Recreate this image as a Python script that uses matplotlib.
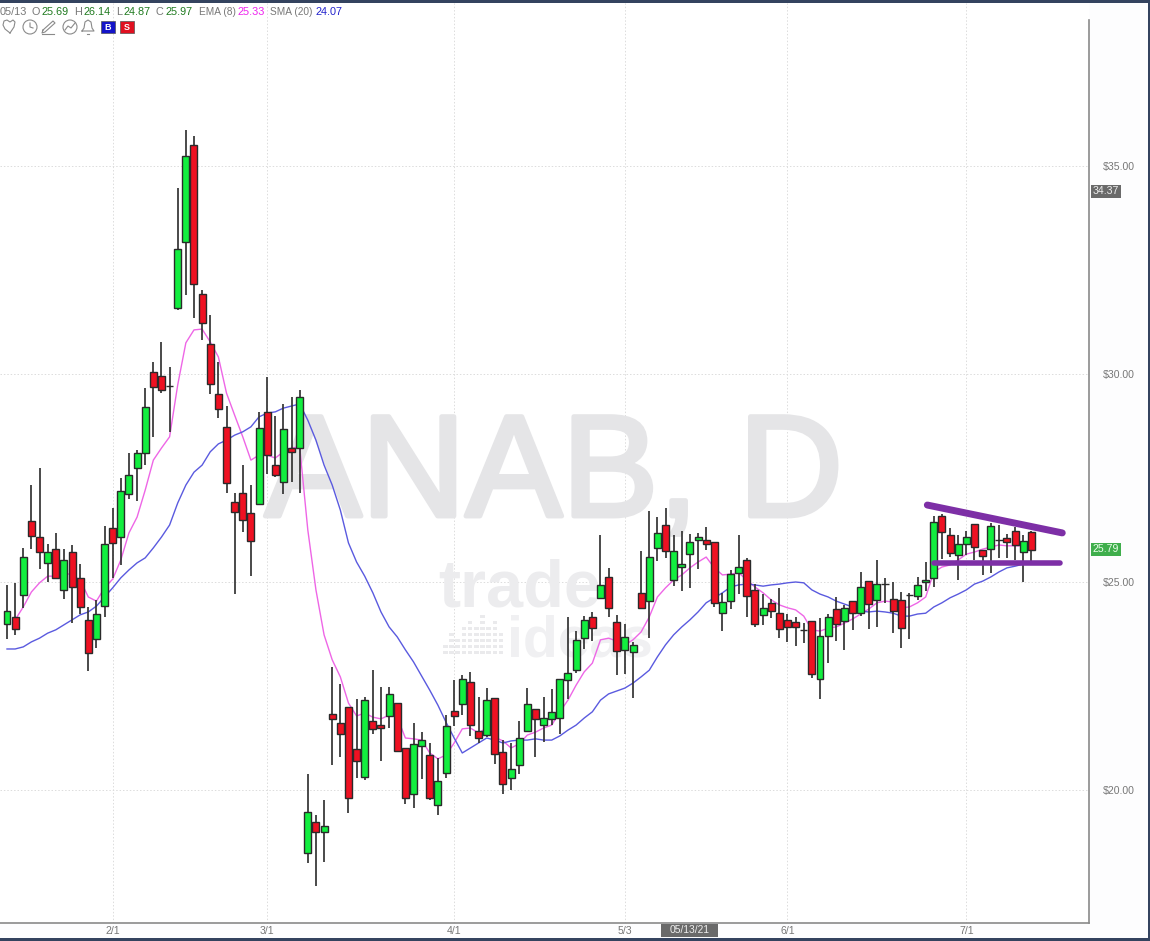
import numpy as np
import matplotlib
matplotlib.use("Agg")
import matplotlib.pyplot as plt
import matplotlib.patheffects as pe
from matplotlib.patches import Rectangle, Circle
from matplotlib.transforms import Affine2D

# ---- data ----
opens = [23.99, 24.16, 24.69, 26.47, 26.08, 25.46, 25.79, 24.81, 25.72, 25.10,
         24.09, 23.63, 24.42, 26.30, 26.08, 27.12, 27.74, 28.10, 30.05, 29.95,
         29.71, 31.59, 33.17, 35.50, 31.92, 30.72, 29.52, 28.73, 26.92, 27.14,
         26.66, 26.88, 29.09, 27.81, 27.40, 28.22, 28.22, 18.49, 19.23, 18.99,
         21.83, 21.61, 22.00, 20.99, 20.31, 21.66, 21.56, 21.78, 22.09, 21.01,
         19.90, 21.06, 20.84, 19.64, 20.41, 21.90, 22.07, 22.60, 21.42, 21.32,
         22.21, 20.91, 20.29, 20.60, 21.42, 21.95, 21.56, 21.71, 21.73, 22.64,
         22.88, 23.65, 24.16, 24.62, 25.12, 24.04, 23.37, 23.32, 24.74, 24.54,
         25.82, 26.37, 25.05, 25.36, 25.67, 26.01, 26.01, 25.96, 24.25, 24.54,
         25.22, 25.53, 24.81, 24.21, 24.50, 24.25, 24.09, 24.04, 23.85, 24.06,
         22.67, 23.70, 24.35, 24.06, 24.54, 24.25, 25.02, 24.57, 24.95, 24.59,
         24.57, 24.69, 24.66, 25.00, 25.10, 26.59, 26.13, 25.65, 25.91, 26.39,
         25.77, 25.79, 26.01, 26.06, 26.23, 25.72, 26.20]
highs = [24.93, 24.98, 25.82, 27.33, 27.74, 25.91, 26.18, 25.79, 25.89, 25.43,
         24.40, 24.57, 26.35, 26.78, 27.50, 28.10, 28.17, 29.66, 30.29, 30.77,
         30.17, 34.47, 35.87, 35.72, 32.02, 31.42, 30.29, 29.23, 27.14, 27.81,
         27.33, 29.09, 29.93, 28.99, 29.28, 29.45, 29.62, 20.38, 19.40, 19.76,
         22.96, 22.55, 22.00, 22.19, 22.24, 22.88, 22.48, 22.48, 22.09, 21.01,
         21.61, 21.39, 21.13, 20.77, 21.80, 22.64, 22.76, 22.84, 22.24, 22.45,
         22.21, 21.20, 21.13, 21.66, 22.45, 21.95, 22.24, 22.43, 22.67, 24.16,
         23.82, 24.18, 24.28, 26.13, 25.34, 24.21, 23.99, 23.56, 25.75, 26.71,
         26.56, 26.78, 26.13, 26.23, 26.15, 26.18, 26.32, 25.96, 24.74, 25.29,
         26.13, 25.58, 24.95, 24.71, 24.59, 24.86, 24.23, 24.16, 24.01, 24.06,
         24.13, 24.23, 24.64, 24.45, 24.54, 25.24, 25.02, 25.53, 25.10, 25.00,
         24.76, 24.74, 25.12, 25.48, 26.59, 26.63, 26.30, 26.13, 26.23, 26.39,
         25.77, 26.42, 26.37, 26.15, 26.32, 26.13, 26.23]
lows = [23.63, 23.73, 24.38, 25.79, 25.31, 25.00, 25.08, 24.59, 24.01, 24.23,
        22.86, 23.41, 24.16, 25.10, 25.41, 27.00, 26.95, 27.81, 28.49, 29.54,
        28.61, 31.55, 31.90, 31.35, 30.82, 29.52, 28.94, 27.14, 24.71, 26.20,
        25.14, 26.85, 27.60, 27.52, 27.12, 27.40, 27.14, 18.25, 17.69, 18.27,
        20.60, 20.79, 19.45, 20.29, 20.24, 21.35, 20.70, 21.49, 20.94, 19.66,
        19.57, 20.26, 19.76, 19.40, 20.29, 21.54, 21.80, 21.30, 21.13, 21.27,
        20.62, 19.90, 20.00, 20.38, 21.42, 20.79, 21.15, 21.56, 21.35, 22.19,
        22.81, 23.39, 23.58, 24.60, 24.16, 22.76, 22.79, 22.21, 24.38, 23.65,
        25.50, 25.58, 24.90, 24.78, 24.86, 25.31, 25.77, 24.40, 23.82, 24.35,
        24.71, 24.16, 23.92, 23.97, 24.13, 23.65, 23.56, 23.46, 23.53, 22.69,
        22.19, 23.05, 23.58, 23.37, 23.85, 24.18, 23.87, 23.92, 24.50, 23.77,
        23.41, 23.63, 24.57, 24.78, 24.88, 25.55, 25.60, 25.05, 25.65, 25.53,
        25.17, 25.22, 25.58, 25.58, 25.53, 25.00, 25.50]
closes = [24.31, 23.87, 25.60, 26.11, 25.72, 25.72, 25.10, 25.53, 24.88, 24.40,
          23.29, 24.23, 25.91, 25.94, 27.19, 27.57, 28.10, 29.21, 29.69, 29.62,
          29.71, 33.00, 35.24, 32.16, 31.23, 29.76, 29.16, 27.38, 26.68, 26.49,
          25.99, 28.70, 28.05, 27.57, 28.68, 28.13, 29.45, 19.47, 18.99, 19.13,
          21.71, 21.35, 19.81, 20.70, 22.16, 21.47, 21.49, 22.31, 20.94, 19.81,
          21.11, 21.20, 19.81, 20.22, 21.54, 21.78, 22.67, 21.56, 21.25, 22.16,
          20.87, 20.14, 20.50, 21.25, 22.07, 21.71, 21.73, 21.88, 22.67, 22.81,
          23.61, 24.09, 23.89, 24.93, 24.38, 23.34, 23.68, 23.49, 24.38, 25.60,
          26.18, 25.75, 25.75, 25.43, 25.96, 26.08, 25.91, 24.50, 24.52, 25.19,
          25.36, 24.66, 23.99, 24.38, 24.30, 23.87, 23.92, 23.92, 23.85, 22.79,
          23.70, 24.16, 23.99, 24.38, 24.25, 24.88, 24.47, 24.95, 24.95, 24.30,
          23.89, 24.69, 24.93, 25.05, 26.44, 26.20, 25.70, 25.91, 26.08, 25.84,
          25.63, 26.35, 26.01, 25.96, 25.89, 25.99, 25.77]

# EMA (8) starts on the second candle
ema8 = [24.09, 24.40, 24.76, 24.98, 25.14, 25.14, 25.22, 25.17, 25.05, 24.64,
        24.54, 24.86, 25.07, 25.53, 26.18, 26.56, 27.21, 27.93, 28.22, 28.49,
        29.74, 30.75, 31.06, 31.08, 30.77, 30.41, 29.54, 29.01, 28.49, 27.93,
        28.05, 28.05, 27.98, 28.13, 28.22, 28.25, 26.25, 24.81, 23.73, 23.13,
        22.72, 22.09, 21.78, 21.85, 21.75, 21.71, 21.80, 21.75, 21.25, 21.23,
        21.20, 20.89, 20.75, 20.84, 21.13, 21.47, 21.49, 21.37, 21.49, 21.27,
        21.18, 21.01, 21.11, 21.32, 21.39, 21.49, 21.56, 21.88, 22.16, 22.52,
        22.84, 23.05, 23.61, 23.65, 23.58, 23.49, 23.61, 23.80, 24.16, 24.64,
        24.86, 25.05, 25.17, 25.34, 25.48, 25.60, 25.34, 25.17, 25.19, 25.22,
        25.05, 24.88, 24.74, 24.57, 24.45, 24.38, 24.33, 24.18, 23.85, 23.82,
        23.89, 23.92, 24.01, 24.11, 24.23, 24.35, 24.50, 24.54, 24.52, 24.38,
        24.40, 24.50, 24.64, 25.24, 25.36, 25.41, 25.53, 25.67, 25.72, 25.79,
        25.84, 25.89, 25.87, 25.87, 25.87, 25.84]
sma20 = [23.39, 23.39, 23.44, 23.56, 23.65, 23.77, 23.85, 23.97, 24.09, 24.21,
         24.28, 24.42, 24.64, 24.86, 25.10, 25.29, 25.46, 25.58, 25.82, 26.08,
         26.37, 26.90, 27.33, 27.64, 27.81, 28.13, 28.32, 28.41, 28.53, 28.61,
         28.73, 28.97, 29.06, 29.09, 29.18, 29.23, 29.28, 28.89, 28.41, 27.81,
         27.33, 26.73, 25.94, 25.48, 25.14, 24.74, 24.28, 23.92, 23.68, 23.37,
         23.08, 22.74, 22.40, 22.04, 21.63, 21.25, 20.89, 21.01, 21.13, 21.25,
         21.20, 21.13, 21.18, 21.20, 21.20, 21.23, 21.20, 21.20, 21.30, 21.44,
         21.56, 21.73, 21.88, 22.16, 22.31, 22.38, 22.45, 22.57, 22.72, 22.88,
         23.20, 23.49, 23.73, 23.92, 24.09, 24.28, 24.50, 24.62, 24.74, 24.88,
         24.93, 24.95, 24.93, 24.90, 24.93, 24.95, 24.98, 25.00, 24.98, 24.81,
         24.71, 24.64, 24.54, 24.47, 24.40, 24.30, 24.28, 24.30, 24.28, 24.25,
         24.18, 24.18, 24.23, 24.25, 24.40, 24.50, 24.62, 24.71, 24.81, 24.95,
         25.02, 25.12, 25.24, 25.34, 25.38, 25.43, 25.46]

date_ticks = [13, 32, 55, 76, 96, 118]
date_labels = ["2/1", "3/1", "4/1", "5/3", "6/1", "7/1"]
price_ticks = [20, 25, 30, 35]
price_labels = ["$20.00", "$25.00", "$30.00", "$35.00"]

# hand drawn triangle on the right
trend_top_x = [113.2, 129.8]
trend_top_y = [26.85, 26.18]
trend_low_x = [114.0, 129.5]
trend_low_y = [25.46, 25.46]

header = [(0, "05/13", "#777777"), (31, "O", "#777777"), (41, "25.69", "#1f7a1f"),
          (74, "H", "#777777"), (83, "26.14", "#1f7a1f"), (116, "L", "#777777"),
          (124, "24.87", "#1f7a1f"), (156, "C", "#777777"), (166, "25.97", "#1f7a1f"),
          (199, "EMA (8)", "#777777"), (238, "25.33", "#ee22ee"),
          (270, "SMA (20)", "#777777"), (316, "24.07", "#2222cc")]

# ---- figure ----
W, H = 1150, 941
fig = plt.figure(figsize=(W / 100, H / 100), dpi=100, facecolor="#fdfdfe")
plt.rcParams["font.family"] = ["Liberation Sans", "DejaVu Sans"]
ax = fig.add_axes([0, (H - 923) / H, 1089 / W, 920 / H], facecolor="white")
px = Affine2D().scale(1 / W, -1 / H).translate(0, 1) + fig.transFigure  # pixel coords for chrome

for s in ax.spines.values():
    s.set_visible(False)
ax.spines["right"].set_visible(True)
ax.spines["right"].set_bounds(16.8, 38.5)
ax.spines["bottom"].set_visible(True)
ax.spines["right"].set_color("#8a8a8a")
ax.spines["bottom"].set_color("#8a8a8a")
ax.spines["right"].set_linewidth(1.2)
ax.spines["bottom"].set_linewidth(1.2)

ax.grid(True, color="#dcdcdc", linestyle=(0, (1.5, 2)), linewidth=0.7, zorder=0)
ax.set_axisbelow(True)
ax.set_xticks(date_ticks, date_labels)
ax.set_yticks(price_ticks, price_labels)
ax.yaxis.tick_right()
ax.tick_params(axis="both", length=0, labelcolor="#777777", labelsize=7.6)
ax.tick_params(axis="x", pad=2)
ax.tick_params(axis="y", pad=10)

# watermarks
ax.text(265, 516, "ANAB, D", transform=px, fontsize=104, color="#e5e5e7", ha="left",
        va="baseline", zorder=1, path_effects=[pe.withStroke(linewidth=3.5, foreground="#e5e5e7")])
ax.text(438, 607, "trade", transform=px, fontsize=48, fontweight="bold", color="#ececee",
        ha="left", va="baseline", zorder=1)
ax.text(507, 657, "ideas", transform=px, fontsize=41, fontweight="bold", color="#f0f0f2",
        ha="left", va="baseline", zorder=1)
eq_heights = [2, 4, 3, 5, 6, 5, 7, 5, 6, 4]
for c, n in enumerate(eq_heights):
    for r in range(n):
        ax.add_patch(Rectangle((443 + c * 6.2, 651 - r * 6), 4.5, 3.5, transform=px,
                               color="#eaeaec", lw=0, zorder=1, clip_on=False))

idx = np.arange(len(opens))
opens = np.array(opens)
closes = np.array(closes)

# moving averages sit under the candles
ax.plot(idx[1:], ema8, color="#ee66e6", lw=1.0, zorder=2)
ax.plot(idx, sma20, color="#5a5adf", lw=1.0, zorder=2)

# candles
colors = ["#12ee3f" if c > o else "#ee1122" for o, c in zip(opens, closes)]
bottoms = np.minimum(opens, closes)
heights = np.abs(closes - opens)
ax.vlines(idx, lows, highs, color="#333333", lw=1.25, zorder=3)
is_doji = heights == 0
ax.hlines(opens[is_doji], idx[is_doji] - 0.45, idx[is_doji] + 0.45, color="#2a2a2a", lw=1.0, zorder=3)
ax.bar(idx[~is_doji], heights[~is_doji], bottom=bottoms[~is_doji], width=0.86,
       color=np.array(colors)[~is_doji], edgecolor="#2a2a2a", linewidth=1.0, zorder=4)

ax.plot(trend_top_x, trend_top_y, color="#7d2fa6", lw=5, solid_capstyle="round", zorder=5)
ax.plot(trend_low_x, trend_low_y, color="#7d2fa6", lw=4, solid_capstyle="round", zorder=5)

# same scale as the screenshot: 8.13 px per bar, 41.6 px per dollar
ax.set_xlim(-7 / 8.13, 1082 / 8.13)
ax.set_ylim(20 - 133 / 41.6, 20 + 787 / 41.6)

# header line
for x, s, col in header:
    size = 7.3 if s[0] in "ES" else 7.8
    ax.text(x, 15, s, transform=px, fontsize=size, color=col, ha="left", va="baseline", clip_on=False)

# icon row
icon = "#8a8a8a"
heart_x = [10, 5, 3, 4, 7, 10, 13, 15, 14, 10]
heart_y = [33, 29, 25, 21, 20, 22, 20, 22, 27, 33]
ax.plot(heart_x, heart_y, transform=px, color=icon, lw=0.8, clip_on=False)
ax.add_patch(Circle((30, 27), 7, transform=px, fill=False, ec=icon, lw=0.8, clip_on=False))
ax.plot([30, 30, 33], [23, 27, 28], transform=px, color=icon, lw=0.8, clip_on=False)
ax.plot([43, 53, 55, 45, 42, 43], [30, 21, 23, 32, 33, 30], transform=px, color=icon, lw=0.8, clip_on=False)
ax.plot([42, 54], [34.5, 34.5], transform=px, color=icon, lw=0.8, clip_on=False)
ax.add_patch(Circle((70, 27), 7, transform=px, fill=False, ec=icon, lw=0.8, clip_on=False))
ax.plot([65, 68, 71, 75], [30, 26, 28, 23], transform=px, color=icon, lw=0.8, clip_on=False)
ax.plot([82, 84, 85, 88, 91, 92, 94, 82], [31, 28, 22, 20, 22, 28, 31, 31], transform=px, color=icon, lw=0.8, clip_on=False)
ax.plot([87, 89], [34, 34], transform=px, color=icon, lw=0.8, clip_on=False)
ax.add_patch(Rectangle((101, 21), 14, 12, transform=px, fc="#1414c8", ec="#555555", lw=0.5, clip_on=False, zorder=6))
ax.add_patch(Rectangle((120, 21), 14, 12, transform=px, fc="#e01020", ec="#555555", lw=0.5, clip_on=False, zorder=6))
ax.text(108, 27, "B", transform=px, fontsize=6.5, color="white", fontweight="bold", ha="center", va="center", zorder=7)
ax.text(127, 27, "S", transform=px, fontsize=6.5, color="white", fontweight="bold", ha="center", va="center", zorder=7)

# price and date flags
ax.add_patch(Rectangle((1091, 185), 30, 13, transform=px, fc="#6a6a6a", lw=0, clip_on=False))
ax.text(1106, 191.5, "34.37", transform=px, fontsize=7.6, color="#eeeeee", ha="center", va="center")
ax.add_patch(Rectangle((1091, 543), 30, 13, transform=px, fc="#3fae4c", lw=0, clip_on=False))
ax.text(1106, 549.5, "25.79", transform=px, fontsize=7.6, color="#eaffea", ha="center", va="center")
ax.add_patch(Rectangle((661, 924), 57, 13, transform=px, fc="#6a6a6a", lw=0, clip_on=False))
ax.text(689.5, 930.5, "05/13/21", transform=px, fontsize=7.4, color="#eeeeee", ha="center", va="center")

# window frame
frame = "#34435f"
ax.add_patch(Rectangle((0, 0), W, 3, transform=px, fc=frame, lw=0, clip_on=False, zorder=8))
ax.add_patch(Rectangle((1147.5, 0), 2.5, H, transform=px, fc=frame, lw=0, clip_on=False, zorder=8))
ax.add_patch(Rectangle((0, 938.5), W, 2.5, transform=px, fc=frame, lw=0, clip_on=False, zorder=8))

fig.savefig("out.png", dpi=100, facecolor=fig.get_facecolor())
